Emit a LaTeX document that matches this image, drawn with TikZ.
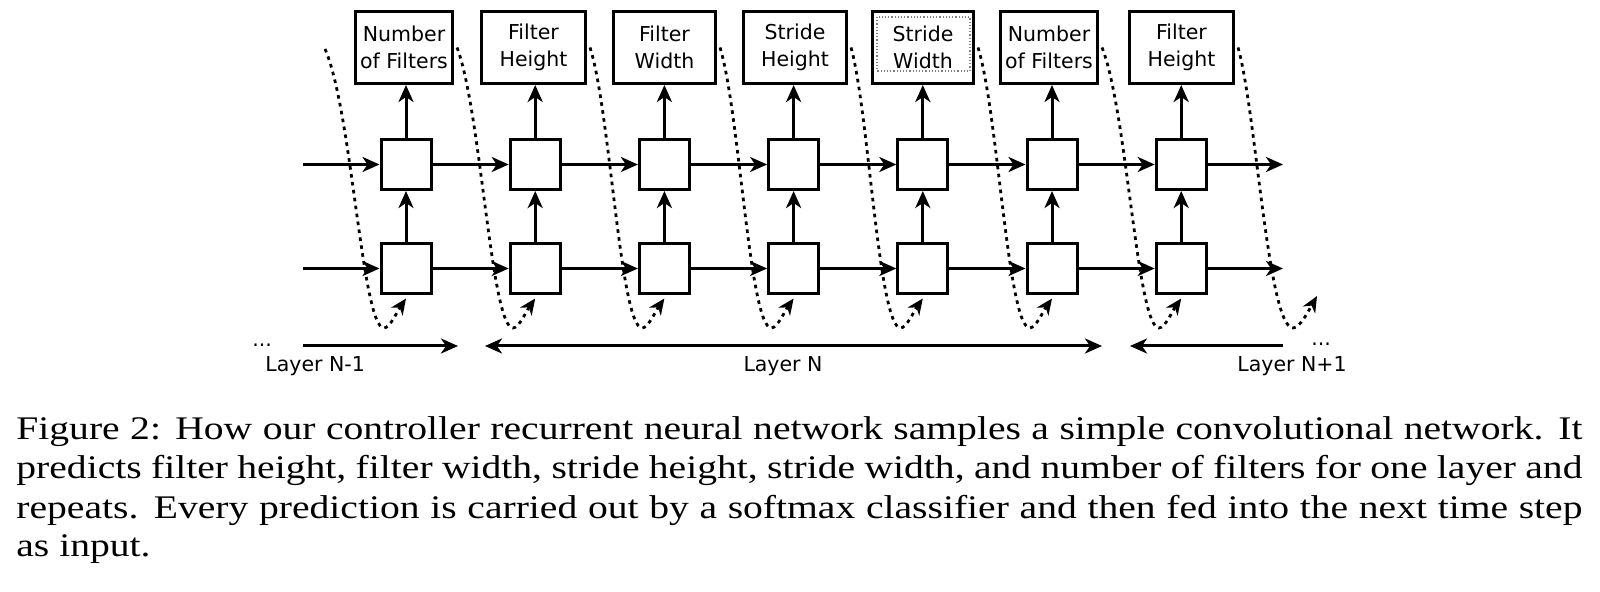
\documentclass[tikz,border=0pt]{standalone}
\usepackage{fontspec}
\usepackage{graphicx}
\newfontfamily\dv{DejaVu Sans}
\newfontfamily\tm{Liberation Serif}
\usetikzlibrary{arrows.meta,calc}
\tikzset{
  lw/.style={line width=1.5pt},
  tipst/.style={-{Stealth[length=8.5pt,width=7.5pt,inset=2.5pt]}},
  arr/.style={lw,tipst},
  cell/.style={draw,lw,minimum size=25pt,inner sep=0pt},
  lbox/.style={draw,lw,minimum height=36pt,inner sep=0pt,align=center,
    font=\dv\fontsize{10.25}{13.5}\selectfont},
  dcurve/.style={line width=1.4pt,dash pattern=on 1.8pt off 2.2pt,
    -{Stealth[length=8pt,width=7pt,inset=2.5pt]}},
  lab/.style={inner sep=0pt,font=\dv\fontsize{10.25}{12}\selectfont},
  captext/.style={inner sep=0pt,anchor=base west,font=\tm\fontsize{16.5}{19}\selectfont},
}
\begin{document}
\begin{tikzpicture}[x=0.5pt,y=-0.5pt]
\useasboundingbox (0,0) rectangle (1600,592);
% top label boxes
\node[lbox,minimum width=48.5pt] (T1) at (404,47.5) {Number\\of Filters};
\node[lbox,minimum width=52pt]   (T2) at (533.5,47.5) {Filter\\Height};
\node[lbox,minimum width=51pt]   (T3) at (664.5,47.5) {Filter\\Width};
\node[lbox,minimum width=51.5pt] (T4) at (795,47.5) {Stride\\Height};
\node[lbox,minimum width=50.5pt] (T5) at (923,47.5) {Stride\\Width};
\node[lbox,minimum width=48.5pt] (T6) at (1049,47.5) {Number\\of Filters};
\node[lbox,minimum width=52pt]   (T7) at (1181.5,47.5) {Filter\\Height};
\draw[gray,densely dotted,line width=0.6pt] (877,17) rectangle (970,71);
% cells
\foreach \k in {1,...,7}{
  \pgfmathsetmacro{\c}{406+129.2*(\k-1)}
  \node[cell] (U\k) at (\c,164.5) {};
  \node[cell] (L\k) at (\c,268.5) {};
  \draw[arr] (L\k.north) -- (U\k.south);
  \draw[arr] (U\k.north) -- (U\k.north |- T\k.south);
}
% horizontal arrows
\coordinate (ua) at (303,164.5);
\coordinate (la) at (303,268.5);
\coordinate (ub) at (1283,164.5);
\coordinate (lb) at (1283,268.5);
\draw[arr] (ua) -- (U1.west);
\draw[arr] (la) -- (L1.west);
\foreach \k [evaluate=\k as \n using int(\k+1)] in {1,...,6}{
  \draw[arr] (U\k.east) -- (U\n.west);
  \draw[arr] (L\k.east) -- (L\n.west);
}
\draw[arr] (U7.east) -- (ub);
\draw[arr] (L7.east) -- (lb);
% dotted feedback curves
\coordinate (s0) at (325,49);
\coordinate (e7) at (1317,296);
\draw[dcurve] (s0) .. controls (352,110) and (362,328) .. (384,328)
  .. controls (390,328) and (398,310) .. ([yshift=-1.75pt]L1.south);
\foreach \k [evaluate=\k as \c using 406+129.2*(\k-1), evaluate=\k as \n using int(\k+1)] in {1,...,6}{
  \draw[dcurve] ([xshift=1.5pt]T\k.east) .. controls (\c+75,110) and (\c+85,328) .. (\c+107,328)
    .. controls (\c+113,328) and (\c+121,310) .. ([yshift=-1.75pt]L\n.south);
}
\draw[dcurve] ([xshift=1.5pt]T7.east) .. controls (1256,110) and (1268,328) .. (1293,328)
  .. controls (1300,328) and (1309,310) .. (e7);
% layer arrows
\coordinate (a1) at (303,346);
\coordinate (a2) at (458,346);
\coordinate (b1) at (485,346);
\coordinate (b2) at (1102,346);
\coordinate (c1) at (1130,346);
\coordinate (c2) at (1283,346);
\draw[arr] (a1) -- (a2);
\draw[lw,{Stealth[length=8.5pt,width=7.5pt,inset=2.5pt]}-{Stealth[length=8.5pt,width=7.5pt,inset=2.5pt]}] (b1) -- (b2);
\draw[lw,{Stealth[length=8.5pt,width=7.5pt,inset=2.5pt]}-] (c1) -- (c2);
\node[lab,anchor=base west] (d1) at (252,347) {...};
\node[lab,anchor=base west] (d2) at (1311,346) {...};
\node[lab,anchor=base west] (n1) at (265,372) {Layer N-1};
\node[lab,anchor=base] (n2) at (783,372) {Layer N};
\node[lab,anchor=base east] (n3) at (1347,372) {Layer N+1};
% caption
\node[captext] (cap1) at (16,440) {\scalebox{1.2}[1]{\makebox[652.5pt][s]{Figure 2: How our controller recurrent neural network samples a simple convolutional network. It}}};
\node[captext] (cap2) at (16,479) {\scalebox{1.2}[1]{\makebox[652.5pt][s]{predicts filter height, filter width, stride height, stride width, and number of filters for one layer and}}};
\node[captext] (cap3) at (16,518) {\scalebox{1.2}[1]{\makebox[652.5pt][s]{repeats. Every prediction is carried out by a softmax classifier and then fed into the next time step}}};
\node[captext] (cap4) at (16,557) {\scalebox{1.2}[1]{as input.}};
\end{tikzpicture}
\end{document}
